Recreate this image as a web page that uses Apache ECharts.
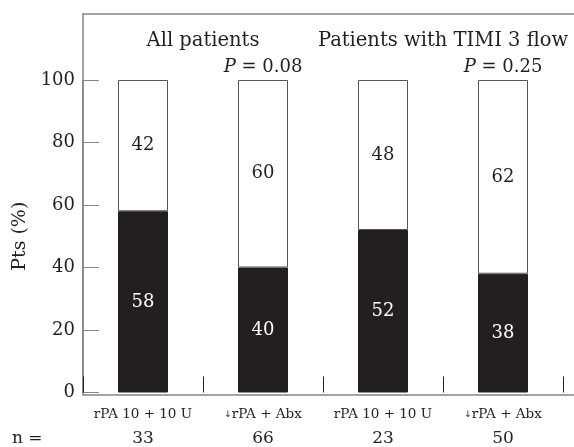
<!DOCTYPE html>
<html>
<head>
<meta charset="utf-8">
<script src="https://cdn.jsdelivr.net/npm/echarts@6/dist/echarts.min.js"></script>
<style>
html,body{margin:0;padding:0;background:#fff;}
#chart{width:574px;height:447px;}
</style>
</head>
<body>
<div id="chart"></div>
<script>
// ---- data ----
var categories = ['rPA 10 + 10 U', '↓rPA + Abx', 'rPA 10 + 10 U', '↓rPA + Abx'];
var nValues = [33, 66, 23, 50];
var blackValues = [58, 40, 52, 38];
var whiteValues = [42, 60, 48, 62];
var yTicks = [0, 20, 40, 60, 80, 100];
var groupTitles = ['All patients', 'Patients with TIMI 3 flow'];
var pValues = ['0.08', '0.25'];

var FONT = 'DejaVu Serif';
var INK = '#231f20';
var AXIS = '#858585';

var chart = echarts.init(document.getElementById('chart'));

var titleData = groupTitles.map(function (t, i) {
  return { value: [1 + 2 * i, 112.4], name: t };
});
var pData = pValues.map(function (p, i) {
  return { value: [1.5 + 2 * i, 104.1], name: '{i|P} = ' + p };
});

var option = {
  animation: false,
  backgroundColor: '#fff',
  grid: [
    { left: 83, right: 0, top: 14, bottom: 52 },
    { left: 83, right: 11, top: 80, bottom: 52 }
  ],
  xAxis: [
    { type: 'value', gridIndex: 0, min: 0, max: 491 / 120, position: 'bottom',
      axisLine: { show: true, lineStyle: { color: AXIS, width: 1.5 } },
      axisTick: { show: false }, axisLabel: { show: false }, splitLine: { show: false } },
    { type: 'value', gridIndex: 0, min: 0, max: 491 / 120, position: 'top',
      axisLine: { show: true, lineStyle: { color: AXIS, width: 1.5 } },
      axisTick: { show: false }, axisLabel: { show: false }, splitLine: { show: false } },
    { type: 'category', gridIndex: 1, data: categories,
      axisLine: { show: false },
      axisTick: { show: true, inside: true, length: 16, interval: 0,
        lineStyle: { color: INK, width: 1 } },
      axisLabel: {
        interval: 0, margin: 10,
        formatter: function (v, idx) {
          var s = v;
          var arrow = '';
          if (s.charAt(0) === '↓') { arrow = '{arr|↓}'; s = s.slice(1); }
          return arrow + '{a|' + s + '}\n{n|' + nValues[idx] + '}';
        },
        rich: {
          a: { fontFamily: FONT, fontSize: 13.5, color: INK, lineHeight: 24 },
          arr: { fontFamily: 'DejaVu Sans', fontSize: 9, color: INK, lineHeight: 24 },
          n: { fontFamily: FONT, fontSize: 17, color: INK, lineHeight: 24 }
        }
      },
      splitLine: { show: false } }
  ],
  yAxis: [
    { type: 'value', gridIndex: 0, min: 0, max: 381 / 3.15,
      axisLine: { show: true, lineStyle: { color: AXIS, width: 1.5 } },
      axisTick: { show: false }, axisLabel: { show: false }, splitLine: { show: false } },
    { type: 'value', gridIndex: 1, min: yTicks[0], max: yTicks[yTicks.length - 1], interval: 20,
      name: 'Pts (%)', nameLocation: 'middle', nameRotate: 90, nameGap: 46,
      nameTextStyle: { fontFamily: FONT, fontSize: 19, color: INK },
      axisLine: { show: true, lineStyle: { color: AXIS, width: 1.5 } },
      axisTick: { show: true, inside: true, length: 16, lineStyle: { color: AXIS, width: 1 } },
      axisLabel: { fontFamily: FONT, fontSize: 18, color: INK, margin: 8 },
      splitLine: { show: false } }
  ],
  series: [
    { type: 'bar', xAxisIndex: 2, yAxisIndex: 1, stack: 'pts', barWidth: 50,
      data: blackValues,
      itemStyle: { color: INK, borderColor: INK, borderWidth: 1 },
      label: { show: true, position: 'inside', color: '#fff', fontFamily: FONT, fontSize: 18 } },
    { type: 'bar', xAxisIndex: 2, yAxisIndex: 1, stack: 'pts', barWidth: 50,
      data: whiteValues,
      itemStyle: { color: '#fff', borderColor: '#555', borderWidth: 1 },
      label: { show: true, position: 'inside', color: INK, fontFamily: FONT, fontSize: 18 } },
    { type: 'scatter', xAxisIndex: 0, yAxisIndex: 0, symbolSize: 0, clip: false,
      data: titleData, itemStyle: { opacity: 1 },
      label: { show: true, position: 'inside', formatter: '{b}', opacity: 1,
        fontFamily: FONT, fontSize: 19.5, color: INK } },
    { type: 'scatter', xAxisIndex: 0, yAxisIndex: 0, symbolSize: 0, clip: false,
      data: pData, itemStyle: { opacity: 1 },
      label: { show: true, position: 'inside', formatter: '{b}', opacity: 1,
        fontFamily: FONT, fontSize: 18, color: INK,
        rich: { i: { fontFamily: FONT, fontSize: 18, fontStyle: 'italic', color: INK } } } }
  ],
  graphic: [
    { type: 'text', left: 12, top: 430,
      style: { text: 'n =', fontFamily: FONT, fontSize: 17, fill: INK } }
  ]
};
chart.setOption(option);
</script>
</body>
</html>
